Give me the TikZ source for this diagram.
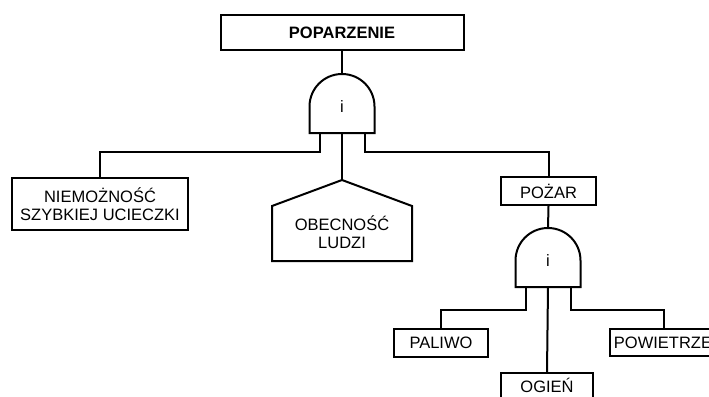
\documentclass[tikz,border=0pt]{standalone}
\usepackage{fontspec}
\setmainfont{Liberation Sans}
\begin{document}
\begin{tikzpicture}[x=1pt,y=-1pt,
  wire/.style={line width=2pt,line join=miter},
  event/.style={draw,line width=2pt,rectangle,inner sep=0pt,align=center,
    font=\fontsize{16.5}{18.5}\selectfont},
  gatelabel/.style={inner sep=0pt,font=\fontsize{16.5}{18.5}\selectfont},
  plain/.style={inner sep=0pt,align=center,font=\fontsize{16.5}{18.5}\selectfont}]
\clip (0,0) rectangle (709,396);
\fill[white] (0,0) rectangle (709,396);

% top event
\node[event,minimum width=243pt,minimum height=35pt,font=\fontsize{16.5}{18.5}\selectfont\bfseries]
  (top) at (342,33) {POPARZENIE};

% AND gate shape: flat bottom, straight sides, round top
\newcommand\drawandgate[3]{%
  \draw[wire] (#1-32.5,#2+26.5) -- (#1-32.5,#2) arc(180:360:32.5) -- (#1+32.5,#2+26.5) -- cycle;
  \node[gatelabel] (#3) at (#1,#2) {i};
  \coordinate (#3in) at (#1,#2-32.5);
  \coordinate (#3l) at (#1-22,#2+26.5);
  \coordinate (#3c) at (#1,#2+26.5);
  \coordinate (#3r) at (#1+23,#2+26.5);
}

\drawandgate{342}{106.5}{gA}
\drawandgate{548}{260.5}{gB}

% basic events and house event
\node[event,minimum width=176pt,minimum height=52pt] (nie) at (100,204)
  {NIEMOŻNOŚĆ\\SZYBKIEJ UCIECZKI};
\draw[wire] (272,261) -- (272,206) -- (342,180) -- (412,206) -- (412,261) -- cycle;
\coordinate (houseTop) at (342,180);
\node[plain] (ludzi) at (342,232) {OBECNOŚĆ\\LUDZI};

\node[event,minimum width=95pt,minimum height=28pt] (pozar) at (548.5,191) {POŻAR};
\node[event,minimum width=94pt,minimum height=28pt] (paliwo) at (441,343) {PALIWO};
\node[event,minimum width=107pt,minimum height=27pt,anchor=west] (powietrze) at (608.5,342.5) {POWIETRZE};
\node[event,minimum width=92pt,minimum height=25pt] (ogien) at (547,385.5) {OGIEŃ};

% connectors
\draw[wire] (top.south) -- (gAin);
\draw[wire] (gAl) -- ++(0,19) -| (nie.north);
\draw[wire] (gAc) -- (houseTop);
\draw[wire] (gAr) -- ++(0,19) -| (pozar.north);
\draw[wire] (pozar.south) -- (gBin);
\draw[wire] (gBl) -- ++(0,23) -| (paliwo.north);
\draw[wire] (gBc) -- (ogien.north);
\draw[wire] (gBr) -- ++(0,23) -| ([xshift=55.5pt]powietrze.north west);
\end{tikzpicture}
\end{document}
